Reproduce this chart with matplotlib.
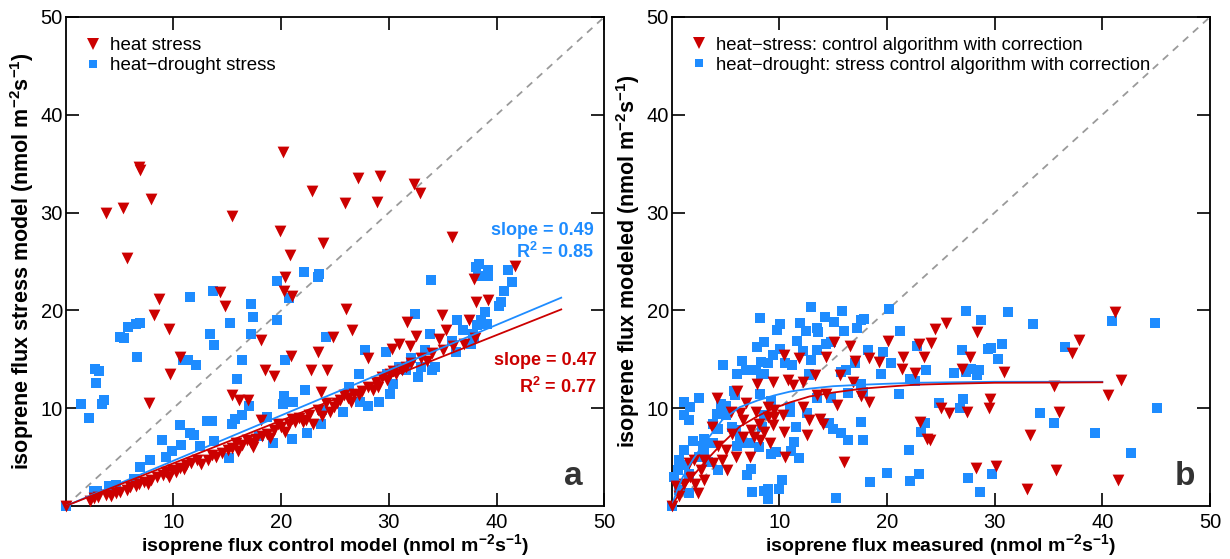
import matplotlib
matplotlib.use("Agg")
import matplotlib.pyplot as plt
from matplotlib.lines import Line2D

plt.rcParams['font.family'] = ['Liberation Sans', 'DejaVu Sans']
plt.rcParams['mathtext.fontset'] = 'custom'
plt.rcParams['mathtext.rm'] = 'Liberation Sans:bold'
plt.rcParams['mathtext.bf'] = 'Liberation Sans:bold'
plt.rcParams['mathtext.default'] = 'bf'

RED = '#cc0000'
BLUE = '#1e8cff'

# ---------------- Panel a data ----------------
a_heat_x = [0, 3.7, 5.3, 6.8, 6.9, 7.9, 15.4, 20.2, 19.9, 22.9, 23.9, 25.9, 27.1, 29.2, 28.9, 32.3, 32.9, 35.9,
            5.7, 20.8, 20.4, 20.3, 21.0, 14.3, 14.8, 8.7, 8.2, 9.6, 10.6, 9.7, 7.7, 18.1, 20.9, 23.4, 18.5, 19.3,
            22.8, 24.3, 26.0, 26.6, 24.8, 28.1, 31.7, 32.5, 30.3, 30.9, 32.0, 34.9, 34.7, 35.3, 37.4, 38.1, 39.2,
            37.9, 41.7, 23.7, 15.4, 16.1, 16.9, 18.1,
            2.6, 3.7, 4.7, 5.7, 6.5, 7.3, 7.9, 9.3, 9.9, 10.6, 11.2, 12.2, 13.2, 14.0, 15.1, 15.8, 16.4, 17.2,
            17.7, 18.7, 19.3, 20.0, 20.7, 21.3, 22.0, 22.3, 23.4, 24.2, 24.9, 25.5, 26.2, 26.8, 27.5, 28.1, 28.8,
            29.4, 30.1, 30.7, 31.6, 32.1, 33.0, 34.0,
            2.3, 3.0, 4.2, 5.0, 6.0, 6.8, 7.6, 8.5, 9.0, 9.6, 10.2, 11.0, 11.6, 12.6, 13.6, 14.5, 15.4, 16.0,
            16.8, 17.4, 18.2, 19.0, 19.7, 20.4, 21.0, 21.7, 22.6, 23.0, 23.8, 24.5, 25.2, 25.8, 26.5, 27.2, 28.5,
            29.0, 29.8, 30.4, 31.2, 33.5, 35.0, 36.0, 37.0, 38.0]
a_heat_y = [0, 30.0, 30.5, 34.7, 34.4, 31.4, 29.7, 36.2, 28.1, 32.2, 26.9, 31.0, 33.5, 33.7, 31.1, 32.9, 32.0, 27.5,
            25.4, 25.7, 23.4, 22.0, 21.5, 21.9, 20.5, 21.2, 19.5, 18.1, 15.2, 13.5, 10.5, 17.0, 15.3, 15.7, 13.9, 13.3,
            13.9, 13.9, 20.1, 18.0, 17.3, 15.1, 18.8, 17.4, 16.1, 16.6, 16.4, 19.5, 17.1, 18.0, 19.0, 20.9, 21.1,
            23.2, 24.5, 11.7, 11.3, 10.8, 10.8, 8.8,
            0.8, 1.1, 1.3, 1.6, 2.0, 2.5, 2.7, 3.5, 3.7, 3.9, 4.2, 4.7, 4.7, 5.0, 5.7, 6.4, 6.2, 6.4,
            6.9, 7.4, 7.8, 8.1, 8.4, 8.6, 8.6, 8.8, 9.8, 10.5, 10.1, 10.8, 11.0, 11.5, 11.8, 12.2, 12.7,
            13.2, 13.5, 13.5, 14.2, 14.6, 15.1, 15.6,
            0.5, 0.9, 1.0, 1.4, 1.9, 2.2, 2.3, 3.0, 3.2, 3.0, 3.5, 3.8, 4.4, 4.3, 5.2, 5.4, 5.9, 5.6,
            6.8, 6.0, 7.2, 7.0, 8.4, 7.6, 8.9, 9.0, 9.3, 8.4, 9.2, 9.6, 10.5, 11.3, 10.6, 11.4, 11.9,
            12.2, 12.9, 13.8, 13.9, 14.8, 16.0, 16.4, 16.6, 17.2]

a_drought_x = [0, 1.4, 2.2, 2.7, 3.1, 2.8, 3.6, 3.4, 5.0, 5.4, 5.8, 6.5, 6.9, 6.6, 11.5, 13.7, 13.4, 13.8, 10.9,
               11.4, 12.1, 15.3, 17.2, 17.4, 17.2, 19.6, 19.6, 20.7, 22.1, 23.4, 23.5, 16.4, 15.9, 20.4, 24.2,
               33.9, 32.4, 38.1, 38.4, 39.2, 39.2, 38.3, 41.1, 41.4, 40.7, 40.4, 40.2, 38.9, 36.3,
               2.6, 2.9, 4.0, 4.7, 6.3, 6.9, 7.8, 8.9, 9.3, 9.9, 10.6, 10.7, 11.5, 11.9, 12.5, 13.1, 13.6, 13.8,
               15.2, 15.4, 15.7, 16.4, 17.0, 17.9, 18.7, 19.2, 20.2, 20.3, 21.0, 21.1, 22.2, 22.4, 23.7, 23.8,
               25.7, 26.3, 27.2, 27.3, 27.8, 28.1, 29.1, 29.7, 29.8, 30.1, 30.4, 30.9, 31.6, 32.1, 32.7, 33.0,
               33.4, 33.8, 34.0, 34.3, 35.9, 36.2, 36.9, 37.8, 38.2, 38.6, 39.1, 37.9, 37.6]
a_drought_y = [0, 10.4, 9.0, 14.0, 13.8, 12.6, 10.8, 10.4, 17.3, 17.2, 18.3, 18.6, 18.7, 15.2, 21.4, 22.0, 17.6, 16.5, 14.9,
               14.9, 14.4, 18.7, 20.7, 19.3, 17.6, 23.0, 19.0, 21.3, 23.9, 23.4, 23.7, 14.9, 13.0, 14.9, 17.3,
               23.1, 19.6, 24.4, 24.7, 24.1, 23.5, 23.5, 24.1, 22.9, 22.0, 20.9, 20.4, 19.8, 19.0,
               1.5, 1.5, 2.0, 2.1, 2.8, 4.0, 4.7, 6.8, 5.0, 5.6, 8.3, 6.2, 7.5, 7.3, 6.1, 8.7, 8.7, 6.6,
               4.9, 8.4, 8.9, 9.3, 10.2, 7.2, 9.1, 6.4, 10.4, 11.2, 6.9, 10.6, 11.9, 7.5, 8.4, 9.8,
               9.6, 12.2, 13.5, 10.6, 16.0, 10.2, 10.6, 15.7, 13.5, 11.5, 12.5, 14.2, 13.9, 15.1, 13.2, 14.2,
               16.0, 17.6, 13.9, 14.2, 16.9, 15.7, 18.0, 17.6, 18.5, 19.0, 18.6, 17.3, 16.6]

# fitted lines, panel a
a_fit_x = [0, 46]
a_fit_heat_y = [0, 20.1]
a_fit_drought_y = [0, 21.3]

# ---------------- Panel b data ----------------
b_heat_x = [41.2, 25.5, 24.5, 28.4, 20.1, 23.0, 24.1, 37.8, 37.2, 15.1, 16.6, 10.4, 11.8, 14.3, 17.0, 18.3, 19.3,
            21.5, 23.4, 27.7, 27.0, 30.9, 21.4, 22.6, 41.7, 35.5, 40.5, 29.6, 29.5, 36.0, 25.0, 25.8, 27.4, 23.1,
            23.7, 24.0, 33.3, 30.1, 28.3, 35.7, 33.0, 41.5, 16.0, 12.6, 10.5, 15.4, 18.3, 17.6, 16.8, 15.6, 13.3,
            13.5, 14.3, 12.2, 11.3, 10.8, 9.4, 7.9, 6.1, 4.2, 6.9, 7.8, 8.9, 9.5, 10.3, 12.2, 12.8, 13.8, 14.1,
            10.4, 9.4, 9.5, 8.9, 8.1, 7.4, 6.6, 6.3, 5.5, 3.7, 5.6, 6.6, 7.6, 8.2, 9.1, 8.6, 7.3, 6.0, 5.0, 4.3,
            4.7, 3.8, 3.0, 5.1, 2.7, 1.7, 2.2, 2.4, 3.0, 1.1, 0.4, 0.7, 0.0, 1.6, 2.1]
b_heat_y = [19.8, 18.7, 18.1, 17.8, 16.9, 16.6, 16.7, 17.0, 15.6, 16.8, 16.4, 15.4, 15.1, 15.2, 14.8, 15.1, 14.7,
            15.2, 15.2, 15.2, 14.0, 13.7, 14.0, 13.6, 12.9, 12.3, 11.4, 10.9, 10.0, 9.6, 10.0, 9.5, 9.6, 8.6,
            6.9, 6.7, 7.3, 4.1, 3.9, 3.7, 1.7, 2.7, 4.5, 7.3, 5.0, 10.3, 10.6, 11.2, 12.7, 13.4, 13.4,
            11.3, 11.5, 12.7, 12.4, 12.9, 12.7, 12.5, 11.8, 11.0, 10.5, 9.6, 10.1, 9.8, 9.3, 10.1, 8.8, 8.9, 8.4,
            7.6, 8.3, 9.1, 9.1, 8.4, 7.8, 8.8, 9.5, 9.6, 8.1, 7.4, 7.1, 7.1, 6.7, 6.4, 7.6, 5.0, 5.0, 5.7, 6.1,
            4.7, 4.4, 4.7, 3.7, 3.7, 3.0, 2.3, 1.3, 2.7, 2.3, 2.0, 1.0, 0.0, 4.4, 4.7]

b_drought_x = [12.9, 15.8, 8.2, 14.2, 15.1, 17.6, 17.9, 20.2, 10.1, 9.8, 11.9, 12.5, 13.5, 13.6, 16.0, 17.2, 21.2,
               27.3, 28.7, 31.2, 33.6, 40.9, 44.9, 8.6, 7.9, 11.6, 12.2, 10.1, 9.4, 13.5, 14.3, 14.8, 18.2, 19.6,
               22.8, 27.0, 29.4, 29.7, 30.7, 36.5, 4.8, 6.5, 6.1, 6.9, 7.8, 8.3, 8.9, 8.3, 8.6, 10.5, 11.2, 12.9,
               12.8, 15.7, 16.2, 17.0, 19.4, 20.4, 23.6, 26.2, 27.3, 27.8, 28.5, 28.4, 30.3, 22.1, 22.6, 17.6,
               17.8, 16.4, 21.1, 27.1, 24.8, 26.8, 45.1, 34.2, 35.5, 39.3, 42.7, 23.5, 23.2, 22.0, 17.6, 17.8,
               20.0, 22.1, 23.0, 18.4, 15.3, 27.5, 28.6, 29.8, 14.6, 15.0, 15.7, 16.4, 14.8, 13.5, 12.8, 12.6,
               11.5, 11.4, 11.1, 11.8, 9.7, 9.2, 10.2, 10.0, 8.9, 8.6, 8.9, 7.5, 7.4, 7.0, 11.0, 11.0, 9.2, 8.2,
               5.9, 5.8, 4.6, 5.0, 4.2, 5.0, 2.5, 1.1, 1.7, 1.1, 1.6, 5.6, 6.0, 6.3, 6.9, 7.3, 6.1, 8.1, 8.4, 8.6,
               3.8, 4.3, 3.0, 2.0, 2.9, 3.8, 1.1, 0.7, 0.6, 0.2, 1.2, 1.6, 1.6, 0.7, 3.4, 4.3, 3.0, 2.5, 0.0]
b_drought_y = [20.3, 19.9, 19.2, 19.3, 18.8, 19.0, 19.1, 20.1, 18.6, 18.0, 18.7, 17.9, 18.2, 17.8, 17.9, 18.2, 17.9,
               19.9, 19.0, 19.8, 18.6, 18.9, 18.7, 16.8, 16.3, 16.9, 15.9, 16.1, 15.4, 16.0, 16.6, 16.8, 16.0, 15.7,
               16.4, 16.0, 16.1, 16.2, 16.6, 16.3, 14.4, 14.8, 13.5, 13.9, 13.9, 14.7, 14.6, 13.5, 13.5, 14.6, 14.4,
               14.9, 13.5, 13.7, 13.9, 14.6, 13.5, 14.6, 13.9, 13.6, 13.7, 14.0, 13.9, 13.4, 15.0, 13.0, 12.8, 12.5,
               11.7, 11.6, 11.5, 10.9, 10.5, 10.0, 10.0, 9.5, 8.5, 7.5, 5.4, 8.5, 7.6, 5.7, 8.6, 6.7,
               3.4, 2.6, 3.3, 2.5, 0.8, 2.9, 1.4, 3.3, 8.5, 7.9, 7.5, 6.8, 11.0, 11.0, 13.4, 9.5,
               8.1, 6.5, 5.6, 4.9, 5.5, 5.3, 2.7, 1.7, 1.7, 1.5, 0.7, 1.4, 3.8, 3.2, 10.1, 9.6, 10.7, 11.5,
               11.3, 11.8, 10.4, 10.2, 9.4, 9.3, 11.0, 10.6, 10.1, 9.3, 8.8, 8.1, 7.8, 6.7, 6.4, 6.4, 6.1, 6.0, 8.1, 9.3,
               8.4, 7.9, 6.9, 6.6, 6.1, 6.4, 5.7, 4.7, 3.7, 3.0, 4.2, 3.3, 1.3, 1.6, 4.5, 3.7, 5.7, 5.0, 0.0]

# fitted saturation curves, panel b
b_fit_drought_x = [0, 0.5, 1.0, 1.4, 2.0, 3.0, 4.0, 4.7, 6.3, 8.0, 9.5, 11.0, 12.8, 15.0, 17.7, 20.0, 22.6, 26.0, 30.0, 35.0, 40.0]
b_fit_drought_y = [0, 1.6, 2.9, 3.7, 4.8, 6.4, 7.8, 8.8, 10.1, 10.8, 11.3, 11.7, 12.0, 12.25, 12.4, 12.5, 12.6, 12.65, 12.7, 12.7, 12.7]
b_fit_heat_x = [0, 0.5, 1.0, 1.4, 2.0, 3.0, 4.0, 4.7, 6.3, 8.0, 9.5, 11.0, 12.8, 15.0, 17.7, 20.0, 22.6, 26.0, 30.0, 35.0, 40.0]
b_fit_heat_y = [0, 0.9, 1.7, 2.3, 3.1, 4.4, 5.6, 6.4, 8.1, 9.2, 10.0, 10.6, 11.2, 11.6, 12.0, 12.2, 12.4, 12.5, 12.6, 12.62, 12.65]

ticks = [10, 20, 30, 40, 50]
one_to_one = [0, 50]

fig = plt.figure(figsize=(12.3, 5.59), dpi=100)
ax_a = fig.add_axes([0.0534, 0.0948, 0.4379, 0.8748])
ax_b = fig.add_axes([0.5461, 0.0948, 0.4376, 0.8748])

unit = r'(nmol m$^{-2}$s$^{-1}$)'


def style(ax, xlabel, ylabel):
    ax.set_xlim(0, 50)
    ax.set_ylim(0, 50)
    ax.set_xticks(ticks)
    ax.set_yticks(ticks)
    ax.tick_params(direction='in', length=9.5, width=1.2, top=True, right=True,
                   labelsize=14.5, pad=2, colors='black')
    ax.tick_params(axis='x', pad=5)
    for s in ax.spines.values():
        s.set_linewidth(1.3)
    ax.set_xlabel(xlabel + ' ' + unit, fontsize=14, fontweight='bold', labelpad=0)
    ax.set_ylabel(ylabel + ' ' + unit, fontsize=15.5, fontweight='bold', labelpad=3)
    ax.plot(one_to_one, one_to_one, ls=(0, (4, 3.5)), color='#9a9a9a', lw=1.3, zorder=1)


style(ax_a, 'isoprene flux control model', 'isoprene flux stress model')
style(ax_b, 'isoprene flux measured', 'isoprene flux modeled')

# panel a
ax_a.scatter(a_drought_x, a_drought_y, marker='s', s=44, color=BLUE, lw=0, zorder=3, clip_on=False)
ax_a.scatter(a_heat_x, a_heat_y, marker='v', s=72, color=RED, lw=0, zorder=3, clip_on=False)
ax_a.plot(a_fit_x, a_fit_drought_y, color=BLUE, lw=1.3, zorder=4)
ax_a.plot(a_fit_x, a_fit_heat_y, color=RED, lw=1.3, zorder=4)

ax_a.text(49.0, 28.2, 'slope = 0.49', color=BLUE, fontsize=13, fontweight='bold', ha='right', va='center')
ax_a.text(49.0, 26.0, r'R$^2$ = 0.85', color=BLUE, fontsize=13, fontweight='bold', ha='right', va='center')
ax_a.text(49.3, 14.9, 'slope = 0.47', color=RED, fontsize=13, fontweight='bold', ha='right', va='center')
ax_a.text(49.3, 12.2, r'R$^2$ = 0.77', color=RED, fontsize=13, fontweight='bold', ha='right', va='center')
ax_a.text(47.1, 2.1, 'a', color='#333333', fontsize=24, fontweight='bold', ha='center', va='baseline')

# panel b
ax_b.scatter(b_drought_x, b_drought_y, marker='s', s=44, color=BLUE, lw=0, zorder=3, clip_on=False)
ax_b.scatter(b_heat_x, b_heat_y, marker='v', s=72, color=RED, lw=0, zorder=3, clip_on=False)
ax_b.plot(b_fit_drought_x, b_fit_drought_y, color=BLUE, lw=1.3, zorder=4)
ax_b.plot(b_fit_heat_x, b_fit_heat_y, color=RED, lw=1.3, zorder=4)
ax_b.text(47.7, 2.1, 'b', color='#333333', fontsize=24, fontweight='bold', ha='center', va='baseline')


def legend(ax, labels, fs):
    handles = [Line2D([], [], ls='none', marker='v', ms=8.5, color=RED, mew=0),
               Line2D([], [], ls='none', marker='s', ms=5.5, color=BLUE, mew=0)]
    ax.legend(handles, labels, loc='upper left', frameon=False, fontsize=fs,
              handlelength=0.8, handletextpad=0.5, borderaxespad=0.25, labelspacing=0.15,
              borderpad=0.83)


legend(ax_a, ['heat stress', 'heat\u2212drought stress'], 13.5)
legend(ax_b, ['heat\u2212stress: control algorithm with correction',
              'heat\u2212drought: stress control algorithm with correction'], 13.3)

fig.savefig('out.png', dpi=100)
